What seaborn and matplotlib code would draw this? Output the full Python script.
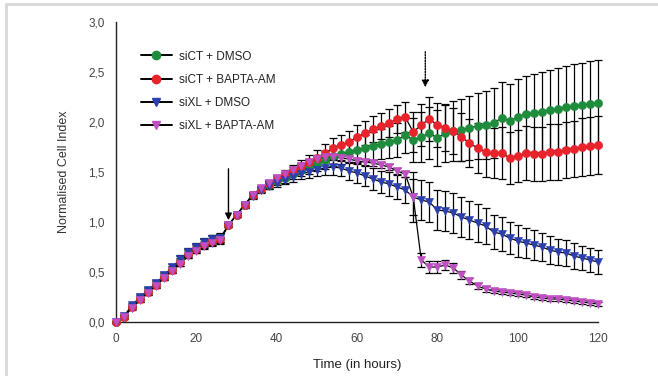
import numpy as np
import pandas as pd
import matplotlib
matplotlib.use("Agg")
import matplotlib.pyplot as plt
from matplotlib.lines import Line2D
import seaborn as sns

# time points (hours), one reading every 2 h
hours = list(range(0, 122, 2))

labels = ["siCT + DMSO", "siCT + BAPTA-AM", "siXL + DMSO", "siXL + BAPTA-AM"]
colors = ["#1e8c3c", "#e8232b", "#2b3fae", "#c04fc4"]
markers = ["o", "o", "v", "v"]

green = [0.00, 0.05, 0.16, 0.24, 0.31, 0.38, 0.46, 0.53, 0.62, 0.69, 0.74, 0.79, 0.82, 0.84,
         0.97, 1.07, 1.17, 1.27, 1.33, 1.37, 1.41, 1.44, 1.48, 1.52, 1.55, 1.59, 1.62,
         1.66, 1.68, 1.70, 1.72, 1.74, 1.76, 1.78, 1.80, 1.82, 1.87, 1.82, 1.85, 1.89, 1.84, 1.89,
         1.91, 1.92, 1.94, 1.96, 1.97, 1.99,
         2.04, 2.01, 2.05, 2.08, 2.09, 2.10, 2.12, 2.13, 2.15, 2.16, 2.17, 2.18, 2.19]
red = [0.00, 0.05, 0.15, 0.23, 0.30, 0.37, 0.45, 0.52, 0.60, 0.68, 0.73, 0.78, 0.81, 0.83,
       0.97, 1.07, 1.17, 1.27, 1.33, 1.38, 1.43, 1.47, 1.52, 1.56, 1.60, 1.64, 1.69,
       1.74, 1.77, 1.80, 1.85, 1.89, 1.93, 1.96, 1.99, 2.03, 2.05, 1.90, 1.97, 2.03, 1.97, 1.94,
       1.91, 1.85, 1.79, 1.74, 1.70, 1.69,
       1.69, 1.64, 1.66, 1.69, 1.68, 1.68, 1.70, 1.70, 1.72, 1.73, 1.75, 1.76, 1.77]
blue = [0.00, 0.06, 0.17, 0.25, 0.32, 0.39, 0.47, 0.55, 0.63, 0.70, 0.75, 0.80, 0.83, 0.84,
        0.97, 1.07, 1.17, 1.26, 1.32, 1.36, 1.39, 1.42, 1.45, 1.48, 1.50, 1.52, 1.54,
        1.55, 1.54, 1.51, 1.49, 1.46, 1.43, 1.40, 1.38, 1.35, 1.32, 1.25, 1.22, 1.20, 1.12, 1.11,
        1.09, 1.05, 1.02, 0.99, 0.96, 0.90,
        0.88, 0.84, 0.81, 0.79, 0.77, 0.75, 0.72, 0.70, 0.69, 0.66, 0.64, 0.62, 0.60]
pink = [0.00, 0.05, 0.14, 0.22, 0.29, 0.36, 0.44, 0.51, 0.58, 0.66, 0.71, 0.76, 0.79, 0.82,
        0.97, 1.07, 1.17, 1.27, 1.34, 1.39, 1.44, 1.48, 1.52, 1.56, 1.60, 1.63, 1.65,
        1.65, 1.64, 1.63, 1.61, 1.60, 1.59, 1.57, 1.55, 1.51, 1.48, 1.25, 0.62, 0.55, 0.55, 0.57,
        0.54, 0.47, 0.41, 0.36, 0.33, 0.31,
        0.30, 0.29, 0.28, 0.27, 0.25, 0.24, 0.23, 0.23, 0.22, 0.21, 0.20, 0.19, 0.18]

green_err = [0.01, 0.02, 0.02, 0.03, 0.03, 0.03, 0.03, 0.03, 0.04, 0.04, 0.04, 0.04, 0.05, 0.05,
             0.02, 0.02, 0.03, 0.03, 0.03, 0.04, 0.04, 0.05, 0.05, 0.06, 0.07, 0.08, 0.09,
             0.10, 0.10, 0.11, 0.12, 0.13, 0.14, 0.15, 0.16, 0.17, 0.18, 0.22, 0.25, 0.26, 0.28, 0.29,
             0.30, 0.31, 0.32, 0.33, 0.34, 0.35,
             0.36, 0.37, 0.38, 0.38, 0.39, 0.40, 0.40, 0.41, 0.41, 0.42, 0.42, 0.43, 0.43]
red_err = [0.01, 0.02, 0.02, 0.03, 0.03, 0.03, 0.03, 0.03, 0.04, 0.04, 0.04, 0.05, 0.05, 0.05,
           0.02, 0.02, 0.03, 0.03, 0.03, 0.04, 0.04, 0.05, 0.05, 0.06, 0.07, 0.08, 0.09,
           0.10, 0.10, 0.11, 0.12, 0.12, 0.13, 0.13, 0.14, 0.14, 0.15, 0.20, 0.21, 0.22, 0.22, 0.23,
           0.23, 0.24, 0.24, 0.25, 0.25, 0.25,
           0.26, 0.26, 0.26, 0.27, 0.27, 0.27, 0.28, 0.28, 0.28, 0.28, 0.29, 0.29, 0.29]
blue_err = [0.01, 0.02, 0.02, 0.03, 0.03, 0.03, 0.03, 0.03, 0.04, 0.04, 0.04, 0.04, 0.04, 0.04,
            0.02, 0.02, 0.02, 0.03, 0.03, 0.03, 0.04, 0.04, 0.05, 0.05, 0.06, 0.06, 0.07,
            0.08, 0.08, 0.09, 0.10, 0.10, 0.11, 0.11, 0.12, 0.12, 0.13, 0.18, 0.20, 0.20, 0.20, 0.20,
            0.20, 0.20, 0.19, 0.19, 0.18, 0.17,
            0.17, 0.16, 0.16, 0.15, 0.15, 0.14, 0.14, 0.13, 0.13, 0.13, 0.12, 0.12, 0.12]
pink_err = [0.01, 0.02, 0.02, 0.02, 0.02, 0.02, 0.02, 0.02, 0.02, 0.02, 0.02, 0.02, 0.02, 0.02,
            0.02, 0.02, 0.02, 0.02, 0.02, 0.02, 0.02, 0.02, 0.03, 0.03, 0.03, 0.03, 0.03,
            0.03, 0.03, 0.03, 0.03, 0.03, 0.03, 0.03, 0.03, 0.03, 0.03, 0.25, 0.07, 0.06, 0.06, 0.05,
            0.05, 0.04, 0.03, 0.03, 0.03, 0.02,
            0.02, 0.02, 0.02, 0.02, 0.02, 0.02, 0.02, 0.02, 0.02, 0.02, 0.02, 0.02, 0.02]

series = [green, red, blue, pink]
errors = [green_err, red_err, blue_err, pink_err]

frames = []
for lab, vals, errs in zip(labels, series, errors):
    frames.append(pd.DataFrame({"hours": hours, "index": vals, "err": errs, "group": lab}))
df = pd.concat(frames, ignore_index=True)

sns.set_style("white")
plt.rcParams["font.family"] = ["Liberation Sans", "DejaVu Sans"]

fig = plt.figure(figsize=(6.58, 3.76), dpi=100)
ax = fig.add_axes([116 / 658, 1 - 322 / 376, (598 - 116) / 658, 300 / 376])

for lab, col, mk in zip(labels, colors, markers):
    d = df[df["group"] == lab]
    ax.errorbar(d["hours"], d["index"], yerr=d["err"], fmt="none", ecolor="black",
                elinewidth=0.9, capsize=3.2, capthick=0.9, zorder=2, clip_on=False)
    sns.lineplot(data=d, x="hours", y="index", color="black", linewidth=0.9,
                 ax=ax, zorder=3, legend=False, clip_on=False)
    sns.scatterplot(data=d, x="hours", y="index", color=col, marker=mk, s=36,
                    edgecolor=col, linewidth=0.3, ax=ax, zorder=4, legend=False, clip_on=False)

ax.set_xlim(0, 120)
ax.set_ylim(0, 3.0)
ax.set_xticks([0, 20, 40, 60, 80, 100, 120])
ax.set_yticks([0, 0.5, 1.0, 1.5, 2.0, 2.5, 3.0])
ax.set_yticklabels(["0,0", "0,5", "1,0", "1,5", "2,0", "2,5", "3,0"])
ax.tick_params(axis="both", direction="out", length=3, width=0.9, labelsize=8.5,
               colors="#333333", labelcolor="#444444", pad=5)
for s in ["top", "right"]:
    ax.spines[s].set_visible(False)
for s in ["left", "bottom"]:
    ax.spines[s].set_color("#222222")
    ax.spines[s].set_linewidth(1.0)

ax.set_xlabel("Time (in hours)", fontsize=9.5, color="#222222", labelpad=10)
ax.set_ylabel("Normalised Cell Index", fontsize=9, color="#333333", labelpad=13)

# treatment arrows
ax.annotate("", xy=(28, 0.99), xytext=(28, 1.56),
            arrowprops=dict(arrowstyle="-|>", color="black", lw=1.0, mutation_scale=10))
ax.annotate("", xy=(77, 2.32), xytext=(77, 2.73),
            arrowprops=dict(arrowstyle="-|>", color="black", lw=1.0, linestyle=(0, (1, 1)),
                            mutation_scale=10))

handles = [Line2D([], [], color="black", lw=1.4, marker=mk, markersize=6,
                  markerfacecolor=col, markeredgecolor=col)
           for col, mk in zip(colors, markers)]
ax.legend(handles, labels, loc="upper left", bbox_to_anchor=(0.03, 0.94), frameon=False,
          fontsize=8.5, handlelength=2.6, labelspacing=0.95, handletextpad=0.6,
          labelcolor="#222222")

# light frame lines of the source picture
fig.add_artist(Line2D([6 / 658, 6 / 658], [0, 1 - 4 / 376], color="#d8d8d8", lw=2,
                      transform=fig.transFigure))
fig.add_artist(Line2D([6 / 658, 1], [1 - 4 / 376, 1 - 4 / 376], color="#d8d8d8", lw=2,
                      transform=fig.transFigure))

fig.savefig("out.png", dpi=100)
